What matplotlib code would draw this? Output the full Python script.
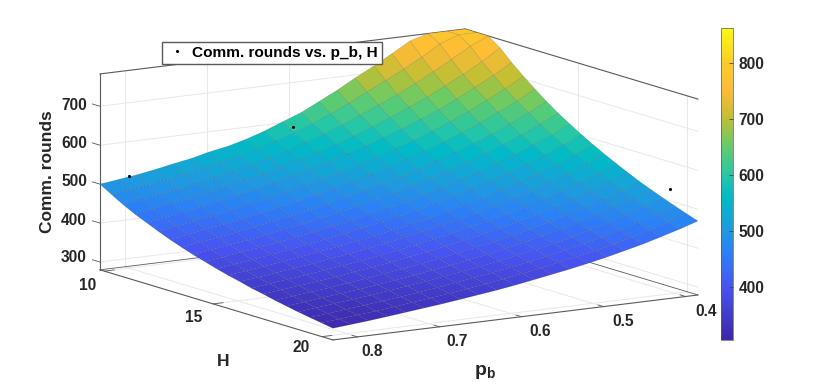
import numpy as np
import matplotlib
matplotlib.use('Agg')
import matplotlib.pyplot as plt
from matplotlib.colors import LinearSegmentedColormap, Normalize
from matplotlib.cm import ScalarMappable

plt.rcParams['font.family'] = ['Liberation Sans', 'DejaVu Sans']
plt.rcParams['font.weight'] = 'bold'
plt.rcParams['mathtext.fontset'] = 'custom'
plt.rcParams['mathtext.bf'] = 'Liberation Sans:bold'

p_b = [0.385, 0.407, 0.430, 0.452, 0.474, 0.496, 0.519, 0.541, 0.563, 0.585, 0.608,
       0.630, 0.652, 0.674, 0.697, 0.719, 0.741, 0.763, 0.786, 0.808, 0.830]
H = [9.80, 10.34, 10.87, 11.41, 11.94, 12.48, 13.01, 13.55, 14.08, 14.62, 15.15,
     15.69, 16.22, 16.76, 17.29, 17.83, 18.36, 18.90, 19.43, 19.97, 20.50]
# one row per H, one column per p_b
comm_rounds = [
    [865, 830, 799, 770, 743, 717, 692, 666, 643, 620, 602, 584, 569, 557, 548, 537, 529, 520, 512, 506, 500],
    [827, 795, 765, 737, 712, 688, 665, 641, 620, 600, 583, 567, 553, 541, 531, 521, 512, 503, 495, 489, 482],
    [793, 762, 734, 708, 684, 661, 640, 619, 600, 583, 567, 552, 539, 527, 516, 506, 497, 488, 480, 473, 465],
    [762, 732, 705, 681, 658, 637, 617, 599, 581, 565, 550, 537, 524, 512, 502, 492, 483, 474, 466, 458, 450],
    [733, 705, 680, 656, 634, 615, 596, 580, 564, 549, 536, 523, 511, 500, 489, 479, 470, 461, 452, 444, 437],
    [707, 680, 656, 633, 613, 594, 576, 560, 545, 531, 518, 506, 495, 484, 474, 465, 455, 447, 439, 431, 424],
    [683, 657, 634, 612, 593, 575, 558, 543, 528, 515, 503, 491, 480, 470, 460, 451, 442, 434, 427, 419, 412],
    [660, 636, 613, 593, 574, 557, 541, 526, 512, 500, 488, 477, 466, 456, 447, 438, 430, 422, 415, 408, 401],
    [639, 616, 594, 575, 557, 540, 525, 511, 498, 485, 474, 463, 453, 444, 435, 427, 419, 411, 405, 398, 391],
    [620, 597, 577, 558, 541, 525, 510, 497, 484, 472, 461, 451, 442, 433, 424, 416, 409, 401, 395, 388, 382],
    [602, 580, 560, 542, 526, 510, 496, 483, 471, 460, 450, 440, 431, 422, 414, 406, 399, 392, 385, 379, 373],
    [585, 564, 545, 527, 511, 497, 483, 471, 459, 448, 438, 429, 420, 412, 404, 397, 390, 383, 377, 371, 365],
    [569, 549, 530, 514, 498, 484, 471, 459, 448, 438, 428, 419, 410, 402, 395, 388, 381, 375, 369, 363, 358],
    [554, 534, 517, 501, 486, 472, 460, 448, 438, 427, 418, 409, 401, 393, 386, 379, 373, 367, 361, 356, 350],
    [540, 521, 504, 489, 474, 461, 449, 438, 428, 418, 409, 400, 393, 385, 378, 372, 365, 359, 354, 349, 344],
    [526, 508, 492, 477, 463, 451, 439, 428, 418, 409, 400, 392, 385, 377, 371, 364, 358, 352, 347, 342, 337],
    [514, 497, 481, 466, 453, 441, 430, 419, 410, 400, 392, 384, 377, 370, 363, 357, 351, 346, 341, 336, 331],
    [502, 485, 470, 456, 443, 431, 420, 410, 401, 392, 384, 377, 370, 363, 357, 351, 345, 340, 335, 330, 325],
    [491, 475, 460, 446, 434, 422, 412, 402, 393, 385, 377, 370, 363, 356, 350, 344, 339, 334, 329, 324, 320],
    [480, 464, 450, 437, 425, 414, 404, 395, 386, 378, 370, 363, 356, 350, 344, 339, 333, 328, 324, 319, 315],
    [470, 455, 441, 428, 417, 406, 396, 387, 379, 371, 363, 356, 350, 344, 338, 333, 328, 323, 318, 314, 310],
]
point_p = [0.8, 0.6, 0.4]
point_H = [10, 10, 19.8]
point_rounds = [517, 590, 543]

z_ticks = [300, 400, 500, 600, 700]
p_ticks = [0.4, 0.5, 0.6, 0.7, 0.8]
H_ticks = [10, 15, 20]
cbar_ticks = [400, 500, 600, 700, 800]

z_min, z_max = 280, 783
text_col = '#262626'
edge_col = '#5a5a5a'
grid_col = '#e8e8e8'

parula = LinearSegmentedColormap.from_list('parula', [
    (0.0, (0.24, 0.15, 0.66)), (0.171, (0.28, 0.33, 0.95)), (0.278, (0.17, 0.50, 0.97)),
    (0.35, (0.12, 0.60, 0.88)), (0.458, (0.00, 0.73, 0.78)), (0.53, (0.15, 0.78, 0.65)),
    (0.619, (0.38, 0.80, 0.42)), (0.709, (0.74, 0.75, 0.20)), (0.799, (1.00, 0.73, 0.22)),
    (0.889, (0.98, 0.80, 0.15)), (1.0, (0.98, 0.98, 0.05))])
norm = Normalize(305, 862)

W, HT = 822, 385
fig = plt.figure(figsize=(W / 100, HT / 100), dpi=100)


def put(x, y, s, **kw):
    kw.setdefault('color', text_col)
    kw.setdefault('fontsize', 11.2)
    kw.setdefault('ha', 'center')
    kw.setdefault('va', 'center')
    fig.text(x / W, 1 - y / HT, s, **kw)


ax = fig.add_axes([78 / W, -120.4 / HT, 625 / W, 625 / HT], projection='3d', proj_type='ortho')
ax.set_axis_off()
ax.computed_zorder = False
ax.view_init(elev=11.1, azim=57.4)
ax.set_box_aspect((433.5, 432.4, 199.7))
p0, p1 = min(p_b), max(p_b)
H0, H1 = min(H), max(H)
ax.set_xlim(p0, p1)
ax.set_ylim(H0, H1)
ax.set_zlim(z_min, z_max)


def line(xs, ys, zs, col=grid_col, lw=0.7):
    ax.plot(xs, ys, zs, color=col, lw=lw, zorder=1)


# grid on the two back walls and the floor
for z in z_ticks:
    line([p1, p0], [H0, H0], [z, z])
    line([p0, p0], [H0, H1], [z, z])
for p in p_ticks:
    line([p, p], [H0, H0], [z_min, z_max])
    line([p, p], [H0, H1], [z_min, z_min])
for h in H_ticks:
    line([p0, p0], [h, h], [z_min, z_max])
    line([p0, p1], [h, h], [z_min, z_min])

# box edges, the back ones only where the surface leaves them visible
line([p1, p1], [H0, H0], [z_min, z_max], edge_col, 0.8)
line([p1, p0], [H0, H0], [z_max, z_max], edge_col, 0.8)
line([p0, p0], [H0, H1], [z_max, z_max], edge_col, 0.8)
line([p1, p1], [H0, H1], [z_min, z_min], edge_col, 0.8)
line([p1, p0], [H1, H1], [z_min, z_min], edge_col, 0.8)
line([p1, 0.70], [H0, H0], [z_min, z_min], edge_col, 0.6)
line([p0, p0], [15.3, H1], [z_min, z_min], edge_col, 0.6)

# ticks
for z in z_ticks:
    line([p1, p1], [H0 - 0.35, H0], [z, z], edge_col, 0.6)
for p in p_ticks:
    line([p, p], [H1 - 0.25, H1], [z_min, z_min], edge_col, 0.6)
for h in H_ticks:
    line([p1 - 0.012, p1], [h, h], [z_min, z_min], edge_col, 0.6)

P_grid, H_grid = np.meshgrid(p_b, H)
# the axis cuts the surface off at its upper limit
Z = np.minimum(np.array(comm_rounds, dtype=float), z_max)
cell_z = (Z[:-1, :-1] + Z[1:, :-1] + Z[:-1, 1:] + Z[1:, 1:]) / 4
ax.plot_surface(P_grid, H_grid, Z, rstride=1, cstride=1,
                facecolors=parula(norm(cell_z)), shade=False,
                edgecolor=(0.1, 0.1, 0.1, 0.22), linewidth=0.35, zorder=2,
                joinstyle='bevel')
ax.plot(point_p, point_H, point_rounds, 'k.', ms=2.5, zorder=3,
        label='Comm. rounds vs. p_b, H')

for z, y in zip(z_ticks, [258, 220.5, 182, 144, 105.5]):
    put(87, y, str(z), ha='right')
for h, (x, y) in zip(H_ticks, [(88, 285), (194, 317), (301, 348)]):
    put(x, y, str(h))
for p, (x, y) in zip(p_ticks, [(706, 311), (623, 322), (540, 332), (457, 342), (372, 351)]):
    put(x, y, str(p))
put(223, 362, 'H', fontsize=12.5)
put(485, 372, r'$\mathbf{p_b}$', fontsize=14)
put(48, 172, 'Comm. rounds', fontsize=12.5, rotation=90)

ax.legend(loc='upper left', bbox_to_anchor=(162 / W, 1 - 42 / HT), bbox_transform=fig.transFigure,
          borderaxespad=0, fancybox=False, framealpha=1, edgecolor=edge_col, fontsize=11.1,
          borderpad=0.25, handlelength=1.4, handletextpad=0.3)

cax = fig.add_axes([720.5 / W, 1 - 340 / HT, 12.5 / W, 312 / HT])
cb = fig.colorbar(ScalarMappable(norm=norm, cmap=parula), cax=cax, ticks=cbar_ticks)
cb.outline.set_edgecolor(edge_col)
cb.outline.set_linewidth(0.5)
cax.tick_params(direction='in', length=3, width=0.6, color='#444444', labelsize=11.2,
                labelcolor=text_col, pad=4)

fig.savefig('out.png', dpi=100)
